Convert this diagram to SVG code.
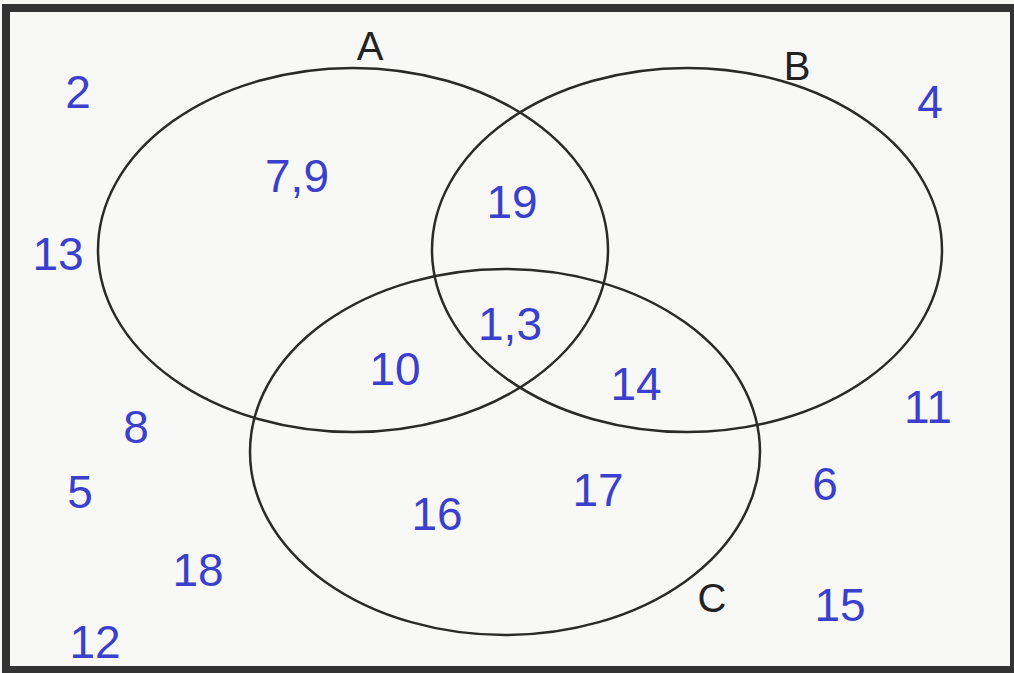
<svg xmlns="http://www.w3.org/2000/svg" width="1014" height="673" viewBox="0 0 1014 673">
<style>
.set{fill:none;stroke:#2a2a2a;stroke-width:2.5}
.lbl{font-family:"Liberation Sans",Arial,sans-serif;font-size:40px;fill:#222;text-anchor:middle}
.num{font-family:"Liberation Sans",Arial,sans-serif;font-size:46px;fill:#3b40cc;text-anchor:middle}
</style>
<rect x="0" y="0" width="1014" height="673" fill="#f8f8f6"/>
<rect x="6" y="8" width="1008" height="662" fill="none" stroke="#333" stroke-width="8"/>
<g id="setA"><ellipse class="set" cx="353" cy="250" rx="255" ry="182"/><text class="lbl" x="370" y="60">A</text></g>
<g id="setB"><ellipse class="set" cx="687" cy="250" rx="255" ry="182"/><text class="lbl" x="797" y="80">B</text></g>
<g id="setC"><ellipse class="set" cx="505" cy="452" rx="255" ry="183"/><text class="lbl" x="712" y="612">C</text></g>
<g id="connectors"/>
<g id="elements">
<text class="num" x="78" y="108">2</text>
<text class="num" x="58" y="270">13</text>
<text class="num" x="297" y="192">7,9</text>
<text class="num" x="512" y="218">19</text>
<text class="num" x="510" y="340">1,3</text>
<text class="num" x="395" y="385">10</text>
<text class="num" x="636" y="400">14</text>
<text class="num" x="930" y="118">4</text>
<text class="num" x="928" y="423">11</text>
<text class="num" x="136" y="443">8</text>
<text class="num" x="80" y="508">5</text>
<text class="num" x="437" y="530">16</text>
<text class="num" x="598" y="506">17</text>
<text class="num" x="825" y="500">6</text>
<text class="num" x="198" y="586">18</text>
<text class="num" x="840" y="621">15</text>
<text class="num" x="95" y="658">12</text>
</g>
</svg>
